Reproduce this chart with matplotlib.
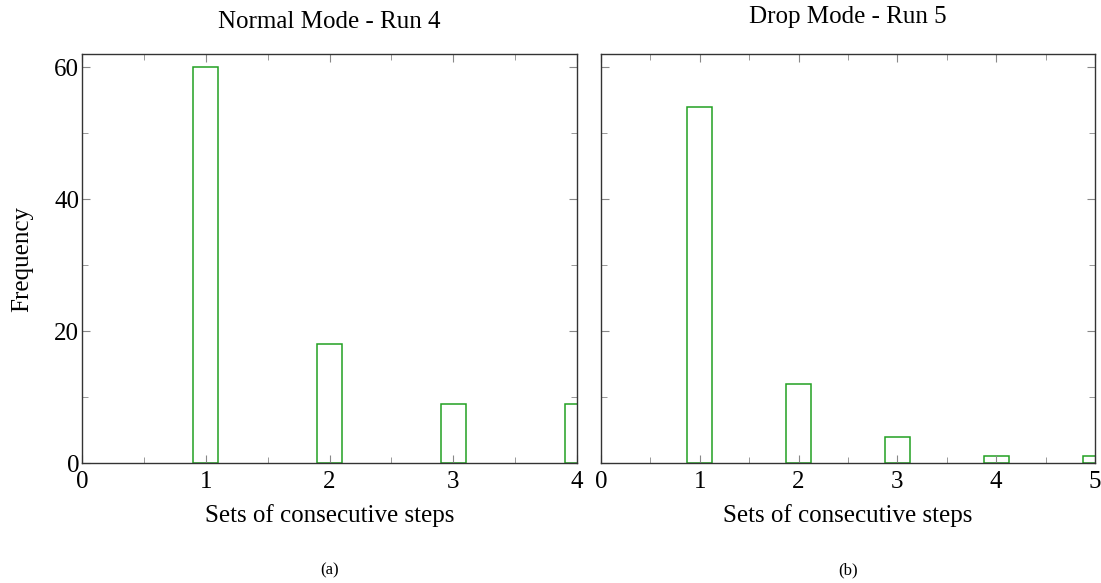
import matplotlib.pyplot as plt
from matplotlib.ticker import MultipleLocator

plt.rcParams['font.family'] = ['Liberation Serif', 'DejaVu Serif']

# data
normal_steps = [1, 2, 3, 4]
normal_freq = [60, 18, 9, 9]
drop_steps = [1, 2, 3, 4, 5]
drop_freq = [54, 12, 4, 1, 1]

green = '#22a022'
W, H = 1101, 583

fig = plt.figure(figsize=(W / 100, H / 100), dpi=100)
ax1 = fig.add_axes([82/W, 1-463/H, 495/W, 409/H])
ax2 = fig.add_axes([601/W, 1-463/H, 494/W, 409/H])

# axes, x data, y data, x max, bar width, title, title centre y (px), caption
panels = [
    (ax1, normal_steps, normal_freq, 4, 0.2, 'Normal Mode - Run 4', 22, '(a)'),
    (ax2, drop_steps, drop_freq, 5, 0.25, 'Drop Mode - Run 5', 17, '(b)'),
]

for ax, xs, ys, xmax, w, title, ty, cap in panels:
    ax.bar(xs, ys, width=w, facecolor='none', edgecolor=green, linewidth=1.1)
    ax.set_xlim(0, xmax)
    ax.set_ylim(0, 62)
    ax.xaxis.set_major_locator(MultipleLocator(1))
    ax.xaxis.set_minor_locator(MultipleLocator(0.5))
    ax.yaxis.set_major_locator(MultipleLocator(20))
    ax.yaxis.set_minor_locator(MultipleLocator(10))
    ax.tick_params(which='both', direction='in', top=True, right=True,
                   color='#888888', labelsize=18)
    ax.tick_params(axis='x', pad=6)
    ax.tick_params(axis='y', pad=2)
    ax.tick_params(which='major', length=6)
    ax.tick_params(which='minor', length=4)
    for s in ax.spines.values():
        s.set_color('#333333')
        s.set_linewidth(1.0)
    ax.set_xlabel('Sets of consecutive steps', fontsize=18, va='center')
    ax.xaxis.set_label_coords(0.5, (463 - 516) / 409)
    ax.text(0.5, 1 + (54 - ty) / 409, title, transform=ax.transAxes,
            ha='center', va='center', fontsize=18)
    ax.text(0.5, (463 - 570) / 409, cap, transform=ax.transAxes,
            ha='center', va='center', fontsize=12)

ax1.set_ylabel('Frequency', fontsize=18, va='center')
ax1.yaxis.set_label_coords((22 - 82) / 495, 0.5)
ax2.tick_params(labelleft=False)

fig.savefig('out.png', dpi=100)
